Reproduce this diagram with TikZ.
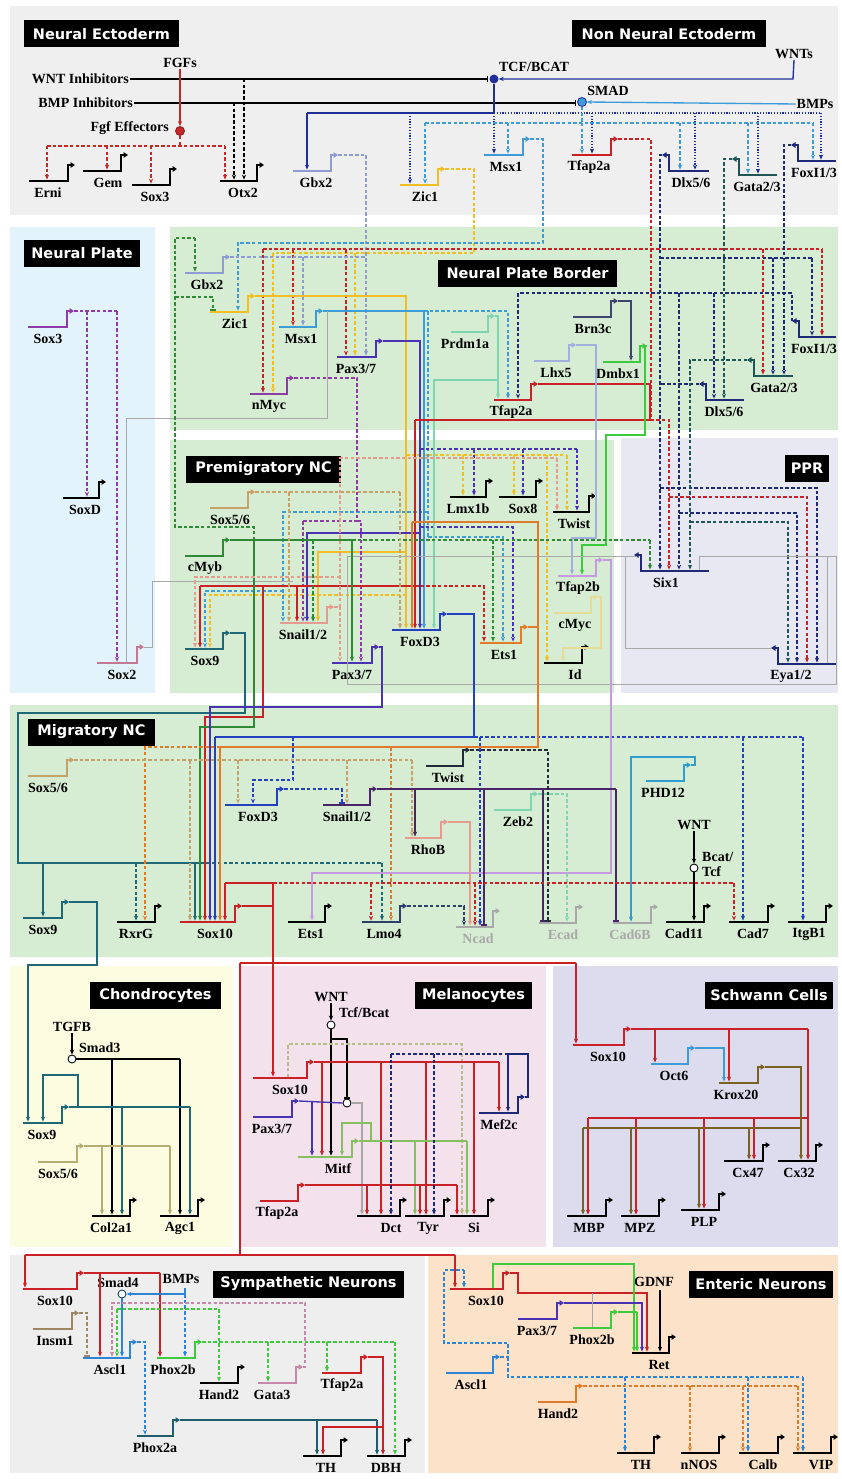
\documentclass[tikz,border=0pt]{standalone}
\usepackage{fontspec}
\setmainfont{Liberation Serif}
\newfontfamily\ttlfamily{DejaVu Sans}
\usetikzlibrary{arrows.meta}
\definecolor{cRed}{HTML}{CC2027}
\definecolor{cFgf}{HTML}{C62828}
\definecolor{cDkBlue}{HTML}{1F2F9A}
\definecolor{cLtBlue}{HTML}{3D9BD8}
\definecolor{cNavy}{HTML}{1E2A78}
\definecolor{cDkTeal}{HTML}{1E5656}
\definecolor{cYel}{HTML}{F2BE22}
\definecolor{cGbx}{HTML}{8E9BD4}
\definecolor{cPurple}{HTML}{8E3BA5}
\definecolor{cPax}{HTML}{4A32B4}
\definecolor{cGreen}{HTML}{2E8A34}
\definecolor{cBGreen}{HTML}{3CCB3C}
\definecolor{cLtTeal}{HTML}{7ED6B0}
\definecolor{cLhx}{HTML}{A2B0DE}
\definecolor{cBrn}{HTML}{3E4470}
\definecolor{cSalmon}{HTML}{E59C8C}
\definecolor{cTan}{HTML}{C7A268}
\definecolor{cOrange}{HTML}{E07B2A}
\definecolor{cLilac}{HTML}{C69AE0}
\definecolor{cPaleY}{HTML}{E6DC96}
\definecolor{cSoxTwo}{HTML}{C27892}
\definecolor{cSoxNine}{HTML}{1E6878}
\definecolor{cBlue}{HTML}{2440C2}
\definecolor{cDkPurple}{HTML}{4A2468}
\definecolor{cDark}{HTML}{232A3A}
\definecolor{cLmo}{HTML}{2C3E6A}
\definecolor{cGray}{HTML}{A8A8A8}
\definecolor{cLtBlueB}{HTML}{2E9DD0}
\definecolor{cKhaki}{HTML}{B5AE72}
\definecolor{cMitf}{HTML}{86BF5E}
\definecolor{cOlive}{HTML}{B8BC8A}
\definecolor{cKrox}{HTML}{7B6124}
\definecolor{cInsm}{HTML}{A08563}
\definecolor{cAscl}{HTML}{2D84D2}
\definecolor{cGataThree}{HTML}{C688A8}
\definecolor{cPhoxA}{HTML}{1F5C6C}
\definecolor{pTop}{HTML}{EFEFEF}
\definecolor{pNP}{HTML}{E3F3FB}
\definecolor{pGreen}{HTML}{D7EDD3}
\definecolor{pPPR}{HTML}{E8E8F3}
\definecolor{pChon}{HTML}{FCFCE1}
\definecolor{pMel}{HTML}{F3E2EC}
\definecolor{pSch}{HTML}{DCDCEE}
\definecolor{pSym}{HTML}{EEEEEE}
\definecolor{pEnt}{HTML}{FBE2C8}
\newcommand\gfont{\fontsize{14}{14}\selectfont\bfseries}
\newcommand\tfont{\ttlfamily\fontsize{14.5}{14.5}\selectfont\bfseries}
\tikzset{
  lk/.style={line width=1.35pt},
  dsh/.style={dash pattern=on 3.5pt off 2.2pt},
  dtd/.style={dash pattern=on 1.2pt off 1.6pt},
  ar/.style={-{Stealth[length=5pt,width=4.2pt]}},
  tb/.style={-{Bar[width=6pt,line width=1.3pt]}},
  gbody/.style={line width=2.9pt},
  griser/.style={line width=2.3pt,-{Triangle[length=4.5pt,width=5.5pt]}},
  lbl/.style={font=\gfont,inner sep=0pt},
  sig/.style={font=\gfont,inner sep=1pt},
  ttl/.style={fill=black,text=white,font=\tfont,inner sep=0pt,minimum height=27pt},
  thn/.style={line width=0.9pt},
  ocirc/.style={circle,draw=black,fill=white,line width=0.9pt,inner sep=0pt,minimum size=8pt},
}
\newcommand\geneR[7]{%
  \draw[gbody,#5] (#2,#4) -- (#3,#4);
  \draw[griser,#5] (#3,#4+1.4) -- (#3,#4-16) -- (#3+7,#4-16);
  \coordinate (#1) at (#2,#4-1.4);
  \coordinate (#1-o) at (#3+7,#4-16);
  \node[lbl] (#1-t) at (#7,#4+12) {#6};}
\newcommand\geneL[7]{%
  \draw[gbody,#5] (#2,#4) -- (#3,#4);
  \draw[griser,#5] (#2,#4+1.4) -- (#2,#4-16) -- (#2-7,#4-16);
  \coordinate (#1) at (#2,#4-1.4);
  \coordinate (#1-o) at (#2-7,#4-16);
  \node[lbl] (#1-t) at (#7,#4+12) {#6};}
\begin{document}
\begin{tikzpicture}[x=1pt,y=-1pt]
\fill[white] (0,0) rectangle (842,1479);
\useasboundingbox (0,0) rectangle (842,1479);
% panels
\fill[pTop] (10,6) rectangle (838,215);
\fill[pNP] (10,227) rectangle (155,693);
\fill[pGreen] (170,227) rectangle (838,430);
\fill[pGreen] (170,440) rectangle (614,693);
\fill[pPPR] (621,438) rectangle (838,693);
\fill[pGreen] (10,705) rectangle (838,957);
\fill[pChon] (10,966) rectangle (233,1247);
\fill[pMel] (240,966) rectangle (546,1247);
\fill[pSch] (553,966) rectangle (838,1247);
\fill[pSym] (10,1255) rectangle (425,1473);
\fill[pEnt] (428,1255) rectangle (838,1473);
% titles
\node[ttl,minimum width=155pt] (tNE) at (101.5,34) {Neural Ectoderm};
\node[ttl,minimum width=194pt] (tNNE) at (669,34) {Non Neural Ectoderm};
\node[ttl,minimum width=116pt] (tNP) at (82,253.5) {Neural Plate};
\node[ttl,minimum width=179pt] (tNPB) at (527.5,273.5) {Neural Plate Border};
\node[ttl,minimum width=155pt] (tPM) at (263.5,469) {Premigratory NC};
\node[ttl,minimum width=44pt] (tPPR) at (807,468.5) {PPR};
\node[ttl,minimum width=127pt] (tMig) at (91.5,732) {Migratory NC};
\node[ttl,minimum width=131pt] (tCh) at (155.5,995.5) {Chondrocytes};
\node[ttl,minimum width=117pt] (tMel) at (473.5,995.5) {Melanocytes};
\node[ttl,minimum width=128pt] (tSch) at (769,995.5) {Schwann Cells};
\node[ttl,minimum width=191pt] (tSym) at (308.5,1284) {Sympathetic Neurons};
\node[ttl,minimum width=144pt] (tEnt) at (761,1284) {Enteric Neurons};

% ================= genes =================
% top
\geneR{erni}{29}{68}{181}{black}{Erni}{48}
\geneR{gem}{83}{121}{171}{black}{Gem}{108}
\geneR{soxthree}{132}{170}{185}{black}{Sox3}{155}
\geneR{otx}{220}{257}{181}{black}{Otx2}{243}
\geneR{gbxt}{293}{331}{171}{cGbx}{Gbx2}{316}
\geneR{zict}{400}{438}{185}{cYel}{Zic1}{425}
\geneR{msxt}{484}{523}{155}{cLtBlue}{Msx1}{506}
\geneR{tfapt}{572}{611}{155}{cRed}{Tfap2a}{589}
\geneL{dlxt}{669}{709}{171}{cNavy}{Dlx5/6}{691}
\geneL{gatat}{739}{777}{175}{cDkTeal}{Gata2/3}{757}
\geneL{foxit}{798}{836}{161}{cNavy}{FoxI1/3}{814}
% neural plate
\geneR{soxthreenp}{28}{67}{327}{cPurple}{Sox3}{48}
\geneR{soxd}{63}{99}{498}{black}{SoxD}{85}
\geneR{soxtwo}{97}{137}{663}{cSoxTwo}{Sox2}{122}
% NPB
\geneR{gbxn}{185}{223}{273}{cGbx}{Gbx2}{207}
\geneR{zicn}{210}{248}{312}{cYel}{Zic1}{235}
\geneR{msxn}{279}{316}{327}{cLtBlue}{Msx1}{301}
\geneR{paxn}{337}{376}{357}{cPax}{Pax3/7}{356}
\geneR{nmyc}{250}{287}{394}{cPurple}{nMyc}{269}
\geneR{prdm}{451}{488}{332}{cLtTeal}{Prdm1a}{465}
\geneR{tfapn}{494}{531}{400}{cRed}{Tfap2a}{511}
\geneR{lhx}{534}{569}{361}{cLhx}{Lhx5}{556}
\geneR{brn}{573}{611}{317}{cBrn}{Brn3c}{593}
\geneR{dmbx}{603}{640}{362}{cBGreen}{Dmbx1}{618}
\geneL{dlxn}{706}{744}{400}{cNavy}{Dlx5/6}{724}
\geneL{gatan}{754}{793}{376}{cDkTeal}{Gata2/3}{774}
\geneL{foxin}{799}{836}{337}{cNavy}{FoxI1/3}{814}
% premigratory
\geneR{soxfsp}{210}{248}{508}{cTan}{Sox5/6}{230}
\geneR{cmyb}{185}{223}{556}{cGreen}{cMyb}{205}
\geneR{soxninep}{185}{223}{649}{cSoxNine}{Sox9}{205}
\geneR{snailp}{280}{327}{623}{cSalmon}{Snail1/2}{303}
\geneR{paxp}{332}{372}{663}{cPax}{Pax3/7}{352}
\geneR{foxdp}{392}{440}{630}{cBlue}{FoxD3}{420}
\geneR{lmx}{450}{486}{497}{black}{Lmx1b}{468}
\geneR{soxeight}{499}{536}{497}{black}{Sox8}{523}
\geneR{twistp}{553}{589}{512}{black}{Twist}{574}
\geneR{tfaptb}{558}{596}{576}{cLilac}{Tfap2b}{578}
\geneR{cmyc}{554}{591}{613}{cPaleY}{cMyc}{575}
\geneR{id}{544}{582}{663}{black}{Id}{575}
\geneR{etsp}{480}{521}{643}{cOrange}{Ets1}{504}
\geneL{six}{641}{709}{571}{cNavy}{Six1}{666}
\geneL{eya}{778}{836}{664}{cNavy}{Eya1/2}{791}
% migratory
\geneR{soxfsm}{28}{67}{776}{cTan}{Sox5/6}{48}
\geneR{foxdm}{225}{277}{805}{cBlue}{FoxD3}{258}
\geneR{snailm}{323}{370}{805}{cDkPurple}{Snail1/2}{347}
\geneR{twistm}{426}{463}{766}{cDark}{Twist}{448}
\geneR{rhob}{405}{441}{838}{cSalmon}{RhoB}{428}
\geneR{zeb}{494}{531}{810}{cLtTeal}{Zeb2}{518}
\geneR{phd}{646}{684}{781}{cLtBlueB}{PHD12}{663}
\geneR{soxninem}{23}{62}{918}{cSoxNine}{Sox9}{43}
\geneR{rxrg}{117}{155}{922}{black}{RxrG}{136}
\geneR{soxtenm}{180}{235}{922}{cRed}{Sox10}{215}
\geneR{etsm}{288}{325}{922}{black}{Ets1}{311}
\geneR{lmo}{362}{400}{922}{cLmo}{Lmo4}{384}
\geneR{ncad}{456}{493}{927}{cGray}{\color{cGray}Ncad}{478}
\geneR{ecad}{539}{576}{923}{cGray}{\color{cGray}Ecad}{563}
\geneR{cadsixb}{613}{651}{923}{cGray}{\color{cGray}Cad6B}{630}
\geneR{cadeleven}{666}{704}{922}{black}{Cad11}{684}
\geneR{cadseven}{729}{768}{922}{black}{Cad7}{753}
\geneR{itg}{788}{826}{922}{black}{ItgB1}{809}
% chondrocytes
\geneR{soxninec}{23}{62}{1123}{cSoxNine}{Sox9}{42}
\geneR{soxfsc}{38}{77}{1162}{cKhaki}{Sox5/6}{58}
\geneR{col}{92}{130}{1216}{black}{Col2a1}{111}
\geneR{agc}{160}{198}{1216}{black}{Agc1}{180}
% melanocytes
\geneR{soxtenmel}{253}{307}{1078}{cRed}{Sox10}{290}
\geneR{paxmel}{253}{292}{1117}{cPax}{Pax3/7}{272}
\geneR{mitf}{298}{352}{1157}{cMitf}{Mitf}{338}
\geneR{tfapmel}{260}{298}{1201}{cRed}{Tfap2a}{277}
\geneR{mef}{479}{518}{1113}{cNavy}{Mef2c}{499}
\geneR{dct}{357}{400}{1216}{black}{Dct}{391}
\geneR{tyr}{405}{444}{1216}{black}{Tyr}{428}
\geneR{si}{450}{488}{1216}{black}{Si}{474}
% schwann
\geneR{soxtensch}{573}{624}{1045}{cRed}{Sox10}{608}
\geneR{oct}{651}{688}{1064}{cLtBlue}{Oct6}{674}
\geneR{krox}{719}{758}{1083}{cKrox}{Krox20}{736}
\geneR{cxff}{724}{763}{1161}{black}{Cx47}{748}
\geneR{cxtt}{778}{816}{1161}{black}{Cx32}{799}
\geneR{mbp}{567}{606}{1216}{black}{MBP}{589}
\geneR{mpz}{621}{659}{1216}{black}{MPZ}{640}
\geneR{plp}{681}{719}{1210}{black}{PLP}{704}
% sympathetic
\geneR{soxtens}{23}{77}{1289}{cRed}{Sox10}{55}
\geneR{insm}{33}{72}{1329}{cInsm}{Insm1}{55}
\geneR{ascls}{83}{130}{1358}{cAscl}{Ascl1}{110}
\geneR{phoxbs}{157}{195}{1358}{cBGreen}{Phox2b}{173}
\geneR{hands}{200}{238}{1383}{black}{Hand2}{219}
\geneR{gatathree}{258}{296}{1383}{cGataThree}{Gata3}{272}
\geneR{tfaps}{322}{361}{1373}{cRed}{Tfap2a}{342}
\geneR{phoxas}{137}{173}{1436}{cPhoxA}{Phox2a}{155}
\geneR{ths}{303}{341}{1456}{black}{TH}{326}
\geneR{dbh}{367}{405}{1456}{black}{DBH}{386}
% enteric
\geneR{soxtene}{450}{503}{1289}{cRed}{Sox10}{486}
\geneR{paxe}{518}{557}{1319}{cPax}{Pax3/7}{537}
\geneR{phoxbe}{573}{611}{1328}{cBGreen}{Phox2b}{592}
\geneR{ret}{632}{669}{1353}{black}{Ret}{659}
\geneR{ascle}{446}{493}{1373}{cAscl}{Ascl1}{471}
\geneR{hande}{538}{576}{1402}{cOrange}{Hand2}{558}
\geneR{the}{617}{654}{1453}{black}{TH}{641}
\geneR{nnos}{681}{719}{1453}{black}{nNOS}{699}
\geneR{calb}{739}{778}{1453}{black}{Calb}{763}
\geneR{vip}{793}{831}{1453}{black}{VIP}{821}

% ================= signals top =================
\node[sig,anchor=east] (wntinh) at (130,79) {WNT Inhibitors};
\node[sig,anchor=east] (bmpinh) at (134,103) {BMP Inhibitors};
\node[sig] (fgfs) at (180,63) {FGFs};
\node[sig,anchor=east] (fgfefft) at (170,128) {Fgf Effectors};
\node[circle,fill=cFgf,draw=cFgf!70!black,line width=0.8pt,inner sep=0pt,minimum size=9pt] (fgfeff) at (180,131) {};
\node[circle,fill=cDkBlue,inner sep=0pt,minimum size=9pt] (tcf) at (494,79) {};
\node[sig] (tcft) at (534,67) {TCF/BCAT};
\node[sig] (wnts) at (794,54) {WNTs};
\node[circle,fill=cLtBlue,draw=cDkBlue,line width=0.8pt,inner sep=0pt,minimum size=9pt] (smad) at (582,102) {};
\node[sig] (smadt) at (608,91) {SMAD};
\node[sig] (bmps) at (815,104) {BMPs};
\draw[lk,black,tb] (wntinh.east) -- (488,79);
\draw[lk,black,tb] (bmpinh.east) -- (576,103);
\draw[lk,cDkBlue,ar] (wnts.south) -- (793,79) -- (tcf.east);
\draw[lk,cLtBlue,ar] (bmps.west) -- (smad.east);
\draw[lk,cFgf,ar] (fgfs.south) -- (fgfeff.north);
\draw[lk,cFgf,dsh] (fgfeff.south) -- (180,146);
\draw[lk,cFgf,dsh] (47,146) -- (225,146);
\foreach \x/\g in {47/erni,107/gem,151/soxthree,225/otx} \draw[lk,cFgf,dsh,ar] (\x,146) -- (\x,0 |- \g);
\draw[lk,black,dsh,ar] (234,103) -- (234,0 |- otx);
\draw[lk,black,dsh,ar] (244,79) -- (244,0 |- otx);
% TCF
\draw[lk,cDkBlue] (tcf.south) -- (494,113) -- (307,113);
\draw[lk,cDkBlue,ar] (307,113) -- (307,0 |- gbxt);
\draw[lk,cDkBlue,dtd,ar] (494,113) -- (494,0 |- msxt);
\draw[lk,cDkBlue,dtd,ar] (410,113) -- (410,0 |- zict);
\draw[lk,cDkBlue,dtd] (494,113) -- (821,113);
\foreach \x/\g in {592/tfapt,695/dlxt,758/gatat,821/foxit} \draw[lk,cDkBlue,dtd,ar] (\x,113) -- (\x,0 |- \g);
% SMAD
\draw[lk,cLtBlue,dsh] (smad.south) -- (582,123);
\draw[lk,cLtBlue,dsh] (425,123) -- (813,123);
\foreach \x/\g in {425/zict,508/msxt,582/tfapt,680/dlxt,748/gatat,813/foxit} \draw[lk,cLtBlue,dsh,ar] (\x,123) -- (\x,0 |- \g);
% top gene outputs
\draw[lk,cGbx,dsh,ar] (gbxt-o) -- (366,155) -- (366,0 |- paxn);
\draw[lk,cYel,dsh] (zict-o) -- (474,169) -- (474,253) -- (273,253);
\draw[lk,cYel,dsh,ar] (355,253) -- (355,0 |- paxn);
\draw[lk,cYel,dsh,ar] (273,253) -- (273,0 |- nmyc);
\draw[lk,cLtBlue,dsh,ar] (msxt-o) -- (543,139) -- (543,243) -- (238,243) -- (238,0 |- zicn);
\draw[lk,cRed,dsh,ar] (tfapt-o) -- (651,139) -- (651,420) -- (669,420) -- (669,0 |- six);
\draw[lk,cRed,dsh] (263,249) -- (822,249);
\foreach \x/\g in {263/nmyc,293/msxn,346/paxn,763/gatan,822/foxin} \draw[lk,cRed,dsh,ar] (\x,249) -- (\x,0 |- \g);
\draw[lk,cRed,dsh,ar] (669,497) -- (807,497) -- (807,0 |- eya);
\draw[lk,cNavy,dsh,ar] (dlxt-o) -- (660,155) -- (660,0 |- six);
\draw[lk,cNavy,dsh] (660,258) -- (812,258);
\foreach \x/\g in {773/gatan,812/foxin} \draw[lk,cNavy,dsh,ar] (\x,258) -- (\x,0 |- \g);
\draw[lk,cNavy,dsh,ar] (660,488) -- (817,488) -- (817,0 |- eya);
\draw[lk,cDkTeal,dsh,ar] (gatat-o) -- (724,159) -- (724,0 |- dlxn);
\draw[lk,cNavy,dsh,ar] (foxit-o) -- (784,145) -- (784,0 |- gatan);

% ================= neural plate =================
\draw[lk,cPurple,dsh] (soxthreenp-o) -- (117,311);
\draw[lk,cPurple,dsh,ar] (117,311) -- (117,0 |- soxtwo);
\draw[lk,cPurple,dsh,ar] (87,311) -- (87,0 |- soxd);
\draw[thn,cGray] (soxtwo-o) -- (152,647) -- (152,581) -- (293,581);

% ================= NPB outputs =================
\draw[lk,cGbx,dsh] (gbxn-o) -- (366,257);
\draw[lk,cGbx,dsh,ar] (303,257) -- (303,0 |- msxn);
\draw[lk,cYel,ar] (zicn-o) -- (406,296) -- (406,0 |- foxdp);
\draw[lk,cYel,ar] (406,552) -- (318,552) -- (318,0 |- snailp);
\draw[lk,cYel,dsh,ar] (406,595) -- (210,595) -- (210,0 |- soxninep);
\draw[lk,cYel,dsh] (406,455) -- (567,455);
\foreach \x/\g in {463/lmx,514/soxeight,567/twistp,547/id} \draw[lk,cYel,dsh,ar] (\x,455) -- (\x,0 |- \g);
\draw[lk,cLtBlue,ar] (msxn-o) -- (424,311) -- (424,0 |- foxdp);
\draw[lk,cLtBlue,dsh,ar] (424,311) -- (508,311) -- (508,0 |- tfapn);
\draw[lk,cLtBlue,dsh] (428,311) -- (428,537);
\draw[lk,cLtBlue,dsh,ar] (428,537) -- (503,537) -- (503,0 |- etsp);
\draw[lk,cLtBlue,dsh,ar] (428,512) -- (283,512) -- (283,0 |- snailp);
\draw[lk,cLtBlue,dsh,ar] (283,591) -- (205,591) -- (205,0 |- soxninep);
\draw[thn,cGray] (327,311) -- (327,418) -- (126,418) -- (126,0 |- soxtwo);
\draw[lk,cPax,ar] (paxn-o) -- (420,341) -- (420,0 |- foxdp);
\draw[lk,cPax,ar] (420,533) -- (307,533) -- (307,0 |- snailp);
\draw[lk,cPax,dsh] (420,449) -- (577,449);
\foreach \x/\g in {474/lmx,523/soxeight,577/twistp} \draw[lk,cPax,dsh,ar] (\x,449) -- (\x,0 |- \g);
\draw[lk,cPax,dsh,ar] (420,527) -- (513,527) -- (513,0 |- etsp);
\draw[lk,cPurple,dsh] (nmyc-o) -- (357,378) -- (357,521) -- (303,521);
\draw[lk,cPurple,dsh,ar] (303,521) -- (303,0 |- snailp);
\draw[lk,cPurple,dsh,ar] (357,521) -- (361,521) -- (361,0 |- paxp);
\draw[lk,cLtTeal,ar] (prdm-o) -- (498,316) -- (498,0 |- tfapn);
\draw[lk,cLtTeal,ar] (498,380) -- (434,380) -- (434,0 |- foxdp);
\draw[lk,cRed] (tfapn-o) -- (650,384) -- (650,420) -- (415,420);
\draw[lk,cRed,ar] (415,420) -- (415,0 |- foxdp);
\draw[lk,cRed] (415,586) -- (200,586);
\draw[lk,cRed,ar] (200,586) -- (200,0 |- soxninep);
\draw[lk,cRed,ar] (297,586) -- (297,0 |- snailp);
\draw[lk,cRed,ar] (263,586) -- (263,717) -- (205,717) -- (205,0 |- soxtenm);
\draw[lk,cRed,dsh,ar] (415,586) -- (484,586) -- (484,0 |- etsp);
\draw[lk,cLhx,ar] (lhx-o) -- (596,345) -- (596,538) -- (572,538) -- (572,0 |- tfaptb);
\draw[lk,cBrn,ar] (brn-o) -- (631,301) -- (631,0 |- dmbx);
\draw[lk,cBGreen,ar] (dmbx-o) -- (645,346) -- (645,435) -- (606,435) -- (606,545) -- (582,545) -- (582,0 |- tfaptb);
\draw[lk,cNavy,dsh] (dlxn-o) -- (660,384);
\draw[lk,cDkTeal,dsh,ar] (gatan-o) -- (690,360) -- (690,0 |- six);
\draw[lk,cDkTeal,dsh,ar] (690,522) -- (788,522) -- (788,0 |- eya);
\draw[lk,cNavy,dsh] (foxin-o) -- (792,293) -- (518,293);
\foreach \x/\g in {518/tfapn,714/dlxn,679/six} \draw[lk,cNavy,dsh,ar] (\x,293) -- (\x,0 |- \g);
\draw[lk,cNavy,dsh,ar] (679,513) -- (797,513) -- (797,0 |- eya);

% ================= PPR gray links =================
\draw[thn,cGray] (347,556) -- (637,556);
\draw[thn,cGray] (699,556) -- (836,556) -- (836,684) -- (347,684) -- (347,556);
\draw[thn,cGray] (eya-o) -- (625,648) -- (625,556);
\draw[thn,cGray] (699,556) -- (699,0 |- six);
\draw[thn,cGray] (827,556) -- (827,0 |- eya);

% ================= premigratory outputs =================
\draw[lk,cGreen,ar] (cmyb-o) -- (352,540) -- (352,0 |- paxp);
\draw[lk,cGreen,dsh] (254,540) -- (254,527) -- (175,527) -- (175,238) -- (195,238);
\draw[lk,cGreen,dsh,ar] (195,238) -- (195,0 |- gbxn);
\draw[lk,cGreen,dsh,tb] (175,297) -- (213,297) -- (213,0 |- zicn);
\draw[lk,cGreen,dsh] (352,540) -- (650,540);
\draw[lk,cGreen,dsh,ar] (650,540) -- (650,0 |- six);
\draw[lk,cGreen,dsh,ar] (313,540) -- (313,0 |- snailp);
\draw[lk,cGreen,dsh,ar] (493,540) -- (493,0 |- etsp);
\draw[lk,cGreen,ar] (254,540) -- (254,727) -- (200,727) -- (200,0 |- soxtenm);
\draw[lk,cTan,dsh] (soxfsp-o) -- (400,492);
\draw[lk,cTan,dsh,ar] (400,492) -- (400,0 |- foxdp);
\draw[lk,cTan,dsh,ar] (289,492) -- (289,0 |- snailp);
\draw[lk,cSoxNine] (soxninep-o) -- (245,633) -- (245,713) -- (18,713) -- (18,863) -- (195,863);
\draw[lk,cSoxNine,ar] (43,863) -- (43,0 |- soxninem);
\draw[lk,cSoxNine,ar] (195,863) -- (195,0 |- soxtenm);
\draw[lk,cSoxNine,dsh] (195,863) -- (382,863);
\draw[lk,cSoxNine,dsh,ar] (382,863) -- (382,0 |- lmo);
\draw[lk,cSoxNine,dsh,ar] (136,863) -- (136,0 |- rxrg);
\draw[lk,cSalmon,dsh,ar] (snailp-o) -- (340,607) -- (340,0 |- paxp);
\draw[lk,cSalmon,dsh] (340,607) -- (340,458) -- (557,458);
\draw[lk,cSalmon,dsh,ar] (557,458) -- (557,0 |- twistp);
\draw[lk,cSalmon,dsh,ar] (340,577) -- (195,577) -- (195,0 |- soxninep);
\draw[lk,cPax,ar] (paxp-o) -- (382,647) -- (382,707) -- (210,707) -- (210,0 |- soxtenm);
\draw[lk,cBlue] (foxdp-o) -- (474,614) -- (474,737) -- (215,737);
\draw[lk,cBlue,ar] (215,737) -- (215,0 |- soxtenm);
\draw[lk,cBlue,dsh] (474,737) -- (803,737);
\foreach \x/\g in {480/ncad,743/cadseven,803/itg} \draw[lk,cBlue,dsh,ar] (\x,737) -- (\x,0 |- \g);
\draw[lk,cBlue,dsh,ar] (293,737) -- (293,780) -- (253,780) -- (253,0 |- foxdm);
\draw[lk,cOrange] (etsp-o) -- (538,627) -- (538,522) -- (412,522);
\draw[lk,cOrange,ar] (412,522) -- (412,0 |- foxdp);
\draw[lk,cOrange] (538,627) -- (538,747) -- (220,747);
\draw[lk,cOrange,ar] (220,747) -- (220,0 |- soxtenm);
\draw[lk,cOrange,dsh,ar] (220,747) -- (145,747) -- (145,0 |- rxrg);
\draw[lk,cOrange,dsh,ar] (391,747) -- (391,0 |- lmo);
\draw[lk,cLilac,ar] (tfaptb-o) -- (611,560) -- (611,873) -- (312,873) -- (312,0 |- etsm);
\draw[lk,cPaleY,ar] (cmyc-o) -- (601,597) -- (601,648) -- (563,648) -- (563,0 |- id);

% ================= migratory =================
\draw[lk,cTan,dsh] (soxfsm-o) -- (412,760);
\foreach \x/\g in {190/soxtenm,238/foxdm,347/snailm,412/rhob} \draw[lk,cTan,dsh,ar] (\x,760) -- (\x,0 |- \g);
\draw[lk,cBlue,dsh,tb] (foxdm-o) -- (342,789) -- (342,0 |- snailm);
\draw[lk,cDkPurple] (snailm-o) -- (616,789);
\draw[lk,cDkPurple,ar] (415,789) -- (415,0 |- rhob);
\foreach \x/\g in {484/ncad,543/ecad,616/cadsixb} \draw[lk,cDkPurple,tb] (\x,789) -- (\x,0 |- \g);
\draw[lk,cDark,dsh,tb] (twistm-o) -- (548,750) -- (548,0 |- ecad);
\draw[lk,cSalmon,ar] (rhob-o) -- (470,822) -- (470,0 |- ncad);
\draw[lk,cLtTeal,dsh,ar] (zeb-o) -- (567,794) -- (567,0 |- ecad);
\draw[lk,cLtBlueB,ar] (phd-o) -- (695,765) -- (695,757) -- (631,757) -- (631,0 |- cadsixb);
\node[sig] (wntm) at (694,825) {WNT};
\node[ocirc] (bcat) at (694,868) {};
\node[sig,anchor=west] (bcatt) at (701,857) {Bcat/};
\node[sig,anchor=west] (tcft2) at (701,872) {Tcf};
\draw[lk,ar] (wntm.south) -- (bcat.north);
\draw[lk,ar] (bcat.south) -- (694,0 |- cadeleven);
\draw[lk,cLmo,dsh,ar] (lmo-o) -- (464,906) -- (464,0 |- ncad);
\draw[lk,cRed] (soxtenm-o) -- (273,906) -- (273,883) -- (225,883);
\draw[lk,cRed,ar] (225,883) -- (225,0 |- soxtenm);
\draw[lk,cRed,dsh] (273,883) -- (734,883);
\foreach \x/\g in {371/lmo,475/ncad,734/cadseven} \draw[lk,cRed,dsh,ar] (\x,883) -- (\x,0 |- \g);
\draw[lk,cRed,ar] (273,906) -- (273,0 |- soxtenmel);
\draw[lk,cRed] (240,963) -- (576,963);
\draw[lk,cRed,ar] (576,963) -- (576,0 |- soxtensch);
\draw[lk,cRed] (240,963) -- (240,1255);
\draw[lk,cRed] (25,1255) -- (455,1255);
\draw[lk,cRed,ar] (25,1255) -- (25,0 |- soxtens);
\draw[lk,cRed,ar] (455,1255) -- (455,0 |- soxtene);
\draw[lk,cSoxNine,ar] (soxninem-o) -- (97,902) -- (97,965) -- (28,965) -- (28,0 |- soxninec);

% ================= chondrocytes =================
\node[sig] (tgfb) at (72,1027) {TGFB};
\node[ocirc] (smadthree) at (72,1059) {};
\node[sig,anchor=west] (smadthreet) at (78,1048) {Smad3};
\draw[lk,ar] (tgfb.south) -- (smadthree.north);
\draw[lk] (smadthree.east) -- (180,1059);
\foreach \x/\g in {112/col,180/agc} \draw[lk,ar] (\x,1059) -- (\x,0 |- \g);
\draw[lk,cSoxNine] (soxninec-o) -- (190,1107);
\foreach \x/\g in {122/col,190/agc} \draw[lk,cSoxNine,ar] (\x,1107) -- (\x,0 |- \g);
\draw[lk,cSoxNine,ar] (78,1107) -- (78,1075) -- (43,1075) -- (43,0 |- soxninec);
\draw[lk,cKhaki] (soxfsc-o) -- (170,1146);
\foreach \x/\g in {102/col,170/agc} \draw[lk,cKhaki,ar] (\x,1146) -- (\x,0 |- \g);

% ================= melanocytes =================
\node[sig] (wntmel) at (331,997) {WNT};
\node[ocirc] (tcfm) at (331,1025) {};
\node[sig,anchor=west] (tcfmt) at (338,1013) {Tcf/Bcat};
\node[ocirc] (ctwo) at (347,1103) {};
\draw[lk,ar] (wntmel.south) -- (tcfm.north);
\draw[lk,ar] (tcfm.south) -- (331,0 |- mitf);
\draw[lk,tb] (331,1039) -- (347,1039) -- (ctwo.north);
\draw[lk,cOlive,dsh,ar] (288,1077) -- (288,1044) -- (462,1044) -- (462,0 |- si);
\draw[lk,cRed] (soxtenmel-o) -- (499,1062);
\foreach \x/\g in {322/mitf,381/dct,426/tyr,474/si,499/mef} \draw[lk,cRed,ar] (\x,1062) -- (\x,0 |- \g);
\draw[lk,cPax] (paxmel-o) -- (ctwo.west);
\draw[lk,cPax,ar] (312,1101) -- (312,0 |- mitf);
\draw[lk,cGray,ar] (ctwo.east) -- (362,1103) -- (362,0 |- dct);
\draw[lk,cMitf] (mitf-o) -- (467,1141);
\draw[lk,cMitf,ar] (467,1141) -- (467,0 |- si);
\draw[lk,cMitf,ar] (415,1141) -- (415,0 |- tyr);
\draw[lk,cMitf,ar] (371,1141) -- (371,1123) -- (342,1123) -- (342,0 |- mitf);
\draw[lk,cRed] (tfapmel-o) -- (457,1185);
\foreach \x/\g in {367/dct,420/tyr,457/si} \draw[lk,cRed,ar] (\x,1185) -- (\x,0 |- \g);
\draw[lk,cNavy,ar] (mef-o) -- (528,1097) -- (528,1054) -- (508,1054) -- (508,0 |- mef);
\draw[lk,cNavy,dsh] (508,1054) -- (391,1054);
\foreach \x/\g in {391/dct,434/tyr} \draw[lk,cNavy,dsh,ar] (\x,1054) -- (\x,0 |- \g);

% ================= schwann =================
\draw[lk,cRed] (soxtensch-o) -- (808,1029);
\draw[lk,cRed,ar] (808,1029) -- (808,0 |- cxtt);
\foreach \x/\g in {655/oct,729/krox} \draw[lk,cRed,ar] (\x,1029) -- (\x,0 |- \g);
\draw[lk,cRed] (588,1118) -- (808,1118);
\foreach \x/\g in {588/mbp,636/mpz,704/plp,754/cxff} \draw[lk,cRed,ar] (\x,1118) -- (\x,0 |- \g);
\draw[lk,cLtBlue,ar] (oct-o) -- (724,1048) -- (724,0 |- krox);
\draw[lk,cKrox] (krox-o) -- (801,1067) -- (801,1128);
\draw[lk,cKrox,ar] (801,1128) -- (801,0 |- cxtt);
\draw[lk,cKrox] (583,1128) -- (801,1128);
\foreach \x/\g in {583/mbp,631/mpz,699/plp,749/cxff} \draw[lk,cKrox,ar] (\x,1128) -- (\x,0 |- \g);

% ================= sympathetic =================
\node[ocirc,draw=cAscl!50!black] (smadfour) at (122,1294) {};
\node[sig] (smadfourt) at (118,1283) {Smad4};
\node[sig] (bmpss) at (181,1279) {BMPs};
\draw[lk,cRed] (soxtens-o) -- (160,1273);
\foreach \x/\g in {100/ascls,160/phoxbs} \draw[lk,cRed,ar] (\x,1273) -- (\x,0 |- \g);
\draw[lk,cInsm,dsh,tb] (insm-o) -- (87,1313) -- (87,0 |- ascls);
\draw[lk,cAscl,ar] (185,1288) -- (185,1294) -- (smadfour.east);
\draw[lk,cAscl,dsh,ar] (185,1294) -- (185,0 |- phoxbs);
\draw[lk,cAscl,ar] (smadfour.south) -- (122,0 |- ascls);
\draw[lk,cGataThree,dsh,ar] (gatathree-o) -- (305,1367) -- (305,1303) -- (112,1303) -- (112,0 |- ascls);
\draw[lk,cBGreen,dsh] (117,1309) -- (219,1309);
\foreach \x/\g in {117/ascls,219/hands} \draw[lk,cBGreen,dsh,ar] (\x,1309) -- (\x,0 |- \g);
\draw[lk,cBGreen,dsh] (phoxbs-o) -- (395,1342);
\foreach \x/\g in {268/gatathree,327/tfaps,395/dbh} \draw[lk,cBGreen,dsh,ar] (\x,1342) -- (\x,0 |- \g);
\draw[lk,cAscl,dsh,ar] (ascls-o) -- (145,1342) -- (145,0 |- phoxas);
\draw[lk,cPhoxA] (phoxas-o) -- (377,1420);
\foreach \x/\g in {317/ths,377/dbh} \draw[lk,cPhoxA,ar] (\x,1420) -- (\x,0 |- \g);
\draw[lk,cRed,ar] (tfaps-o) -- (383,1357) -- (383,0 |- dbh);
\draw[lk,cRed,ar] (383,1427) -- (323,1427) -- (323,0 |- ths);

% ================= enteric =================
\node[sig] (gdnf) at (654,1282) {GDNF};
\draw[lk,cRed,ar] (soxtene-o) -- (518,1273) -- (518,1293) -- (647,1293) -- (647,0 |- ret);
\draw[lk,cBGreen,ar] (493,1288) -- (493,1264) -- (634,1264) -- (634,0 |- ret);
\draw[lk,cPax,ar] (paxe-o) -- (642,1303) -- (642,0 |- ret);
\draw[lk,cBGreen] (phoxbe-o) -- (637,1312);
\draw[lk,cBGreen,ar] (637,1312) -- (637,0 |- ret);
\draw[thn,cGray] (592,1293) -- (592,0 |- phoxbe);
\draw[lk,ar] (660,1290) -- (660,0 |- ret);
\draw[lk,cAscl,dsh] (ascle-o) -- (508,1357) -- (508,1343) -- (444,1343) -- (444,1270) -- (464,1270);
\draw[lk,cAscl,dsh,ar] (464,1270) -- (464,0 |- soxtene);
\draw[lk,cAscl,dsh] (508,1357) -- (508,1377) -- (803,1377);
\foreach \x/\g in {625/the,748/calb,803/vip} \draw[lk,cAscl,dsh,ar] (\x,1377) -- (\x,0 |- \g);
\draw[lk,cOrange,dsh] (hande-o) -- (798,1386);
\foreach \x/\g in {690/nnos,743/calb,798/vip} \draw[lk,cOrange,dsh,ar] (\x,1386) -- (\x,0 |- \g);
\end{tikzpicture}
\end{document}
